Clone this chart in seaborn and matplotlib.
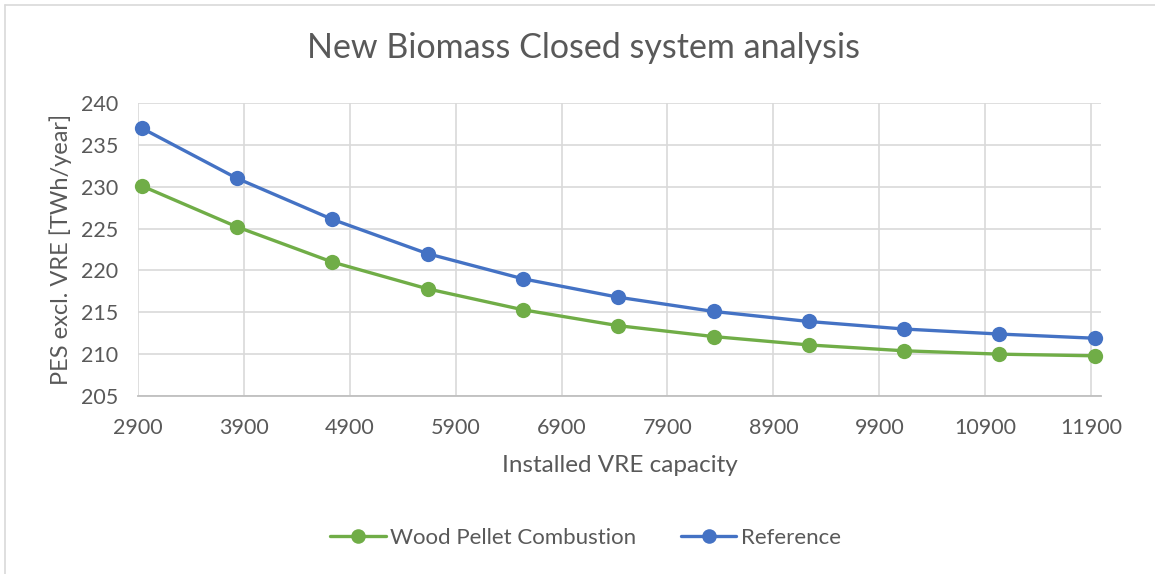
import seaborn as sns
import pandas as pd
import matplotlib.pyplot as plt
from matplotlib.lines import Line2D

# data
capacity = [2935, 3835, 4735, 5635, 6535, 7435, 8335, 9235, 10135, 11035, 11935]
wood_pellet = [230.1, 225.2, 221.0, 217.8, 215.3, 213.4, 212.1, 211.1, 210.4, 210.0, 209.8]
reference = [237.0, 231.0, 226.1, 222.0, 219.0, 216.8, 215.1, 213.9, 213.0, 212.4, 211.9]
series_names = ['Wood Pellet Combustion', 'Reference']
x_ticks = [2900, 3900, 4900, 5900, 6900, 7900, 8900, 9900, 10900, 11900]
y_ticks = [205, 210, 215, 220, 225, 230, 235, 240]

df = pd.DataFrame({
    'capacity': capacity * 2,
    'pes': wood_pellet + reference,
    'series': [series_names[0]] * len(capacity) + [series_names[1]] * len(capacity),
})

sns.set_style('white')
plt.rcParams['font.family'] = ['Lato', 'DejaVu Sans']
text_col = '#595959'

fig = plt.figure(figsize=(11.55, 5.74), dpi=100)
ax = fig.add_axes([138 / 1155, 1 - 396 / 574, (1101 - 138) / 1155, (396 - 103) / 574])

sns.lineplot(data=df, x='capacity', y='pes', hue='series', hue_order=series_names,
             palette=['#70AD47', '#4472C4'], marker='o', markersize=11,
             markeredgewidth=0, linewidth=2.4, ax=ax, legend=False, clip_on=False)

ax.set_xlim(2900, 11994)
ax.set_ylim(205, 240)
ax.set_xticks(x_ticks)
ax.set_yticks(y_ticks)
ax.grid(True, color='#d9d9d9', linewidth=1.2)
ax.set_axisbelow(True)
for s in ['top', 'right', 'left']:
    ax.spines[s].set_visible(False)
ax.spines['bottom'].set_color('#bfbfbf')
ax.spines['bottom'].set_linewidth(1.3)
ax.tick_params(axis='y', length=0, labelsize=15.5, labelcolor=text_col, pad=14)
ax.tick_params(axis='x', length=0, labelsize=15.5, labelcolor=text_col, pad=16)

ax.set_xlabel('Installed VRE capacity', fontsize=17.5, color=text_col, labelpad=12)
ax.set_ylabel('PES excl. VRE [TWh/year]', fontsize=17, color=text_col)
ax.yaxis.set_label_coords(-0.069, 0.5)
fig.text(0.505, 1 - 48 / 574, 'New Biomass Closed system analysis', fontsize=24.5,
         color=text_col, ha='center', va='center')

handles = [Line2D([], [], color='#70AD47', marker='o', markersize=10.5, linewidth=2.4, markeredgewidth=0),
           Line2D([], [], color='#4472C4', marker='o', markersize=10.5, linewidth=2.4, markeredgewidth=0)]
fig.legend(handles, series_names, loc='center', bbox_to_anchor=(0.507, 1 - 538 / 574), ncol=2,
           frameon=False, fontsize=16, labelcolor=text_col, handlelength=2.5, handletextpad=0.2,
           columnspacing=2.0)

# chart frame, only top and left edges visible in the crop
fig.add_artist(Line2D([5 / 1155, 1], [1 - 5 / 574, 1 - 5 / 574], transform=fig.transFigure, color='#d9d9d9', linewidth=1.2))
fig.add_artist(Line2D([5 / 1155, 5 / 1155], [0, 1 - 5 / 574], transform=fig.transFigure, color='#d9d9d9', linewidth=1.2))

fig.savefig('out.png', dpi=100, facecolor='white')
